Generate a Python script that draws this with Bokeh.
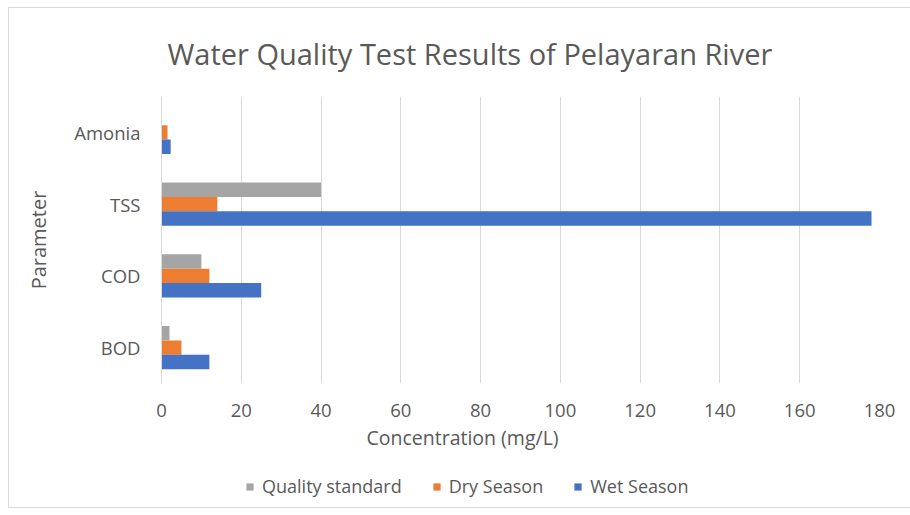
from bokeh.plotting import figure
from bokeh.models import (FactorRange, ColumnDataSource, FixedTicker, Legend,
                          LegendItem, Range1d, Title)
from bokeh.layouts import column
from bokeh.transform import dodge
from bokeh.embed import file_html
from bokeh.resources import INLINE

# ---- data ----
parameters = ["BOD", "COD", "TSS", "Amonia"]
quality_standard = [2, 10, 40, 0]
dry_season = [5, 12, 14, 1.5]
wet_season = [12, 25, 178, 2.3]
x_ticks = [0, 20, 40, 60, 80, 100, 120, 140, 160, 180]
series_names = ["Quality standard", "Dry Season", "Wet Season"]

title_text = "Water Quality Test Results of Pelayaran River"
x_title = "Concentration (mg/L)"
y_title = "Parameter"

FONT = "Open Sans"
TXT = "#595959"
colors = ["#A5A5A5", "#ED7D31", "#4472C4"]

src = ColumnDataSource(dict(param=parameters, qs=quality_standard,
                            dry=dry_season, wet=wet_season))

W = 901
p = figure(width=W, height=455, output_backend="svg", toolbar_location=None,
           y_range=FactorRange(factors=parameters), x_range=Range1d(0, 180),
           min_border_left=152, min_border_right=31, min_border_top=88,
           min_border_bottom=80)
p.outline_line_color = None
p.border_fill_color = "white"
p.background_fill_color = "white"

p.hbar(y=dodge("param", 0.2, range=p.y_range), right="qs", left=0, height=0.2,
       source=src, fill_color=colors[0], line_color=None)
p.hbar(y=dodge("param", 0.0, range=p.y_range), right="dry", left=0, height=0.2,
       source=src, fill_color=colors[1], line_color=None)
p.hbar(y=dodge("param", -0.2, range=p.y_range), right="wet", left=0, height=0.2,
       source=src, fill_color=colors[2], line_color=None)

# title
p.title.text = title_text
p.title.align = "left"
p.title.offset = 6
p.title.vertical_align = "middle"
p.title.text_font = FONT
p.title.text_font_size = "29px"
p.title.text_font_style = "normal"
p.title.text_color = TXT
p.title.standoff = 46

# axes
p.xaxis.ticker = FixedTicker(ticks=x_ticks)
p.xaxis.axis_line_color = None
p.xaxis.major_tick_line_color = None
p.xaxis.minor_tick_line_color = None
p.xaxis.major_label_text_font = FONT
p.xaxis.major_label_text_font_size = "18.5px"
p.xaxis.major_label_text_color = TXT
p.xaxis.major_label_standoff = 14

p.yaxis.axis_line_color = "#D9D9D9"
p.yaxis.major_tick_line_color = None
p.yaxis.minor_tick_line_color = None
p.yaxis.major_label_text_font = FONT
p.yaxis.major_label_text_font_size = "18.5px"
p.yaxis.major_label_text_color = TXT
p.yaxis.major_label_standoff = 15
p.yaxis.axis_label = y_title
p.yaxis.axis_label_text_font = FONT
p.yaxis.axis_label_text_font_size = "20px"
p.yaxis.axis_label_text_font_style = "normal"
p.yaxis.axis_label_text_color = TXT
p.yaxis.axis_label_standoff = 19

p.xgrid.grid_line_color = "#D9D9D9"
p.ygrid.grid_line_color = None

xt = Title(text=x_title, align="left", offset=205, text_font=FONT,
           text_font_size="19.5px", text_font_style="normal", text_color=TXT,
           standoff=4)
p.add_layout(xt, "below")

# legend strip (separate small figure so the legend is not clipped);
# its swatch renderers hold one off-screen dummy row only
lg = figure(width=W, height=44, output_backend="svg", toolbar_location=None,
            x_range=Range1d(0, 1), y_range=Range1d(0, 1),
            x_axis_type=None, y_axis_type=None, min_border=0)
lg.outline_line_color = None
lg.grid.visible = False
dummy = ColumnDataSource(dict(y=[-5], right=[0]))
lr = [lg.hbar(y="y", right="right", left=0, height=0.2, source=dummy,
              fill_color=c, line_color=None) for c in colors]
legend = Legend(items=[LegendItem(label=n, renderers=[r]) for n, r in zip(series_names, lr)],
                orientation="horizontal", location=(84, 9),
                label_text_font=FONT, label_text_font_size="18px",
                label_text_color=TXT, glyph_width=9, glyph_height=9,
                spacing=30, padding=0, margin=0, border_line_color=None,
                background_fill_alpha=0, label_standoff=8)
lg.add_layout(legend, "center")

layout = column(p, lg, spacing=0)
layout.styles = {"border": "1.5px solid #D9D9D9", "margin-left": "8px", "margin-top": "7px"}

open("out.html", "w").write(file_html(layout, INLINE))
